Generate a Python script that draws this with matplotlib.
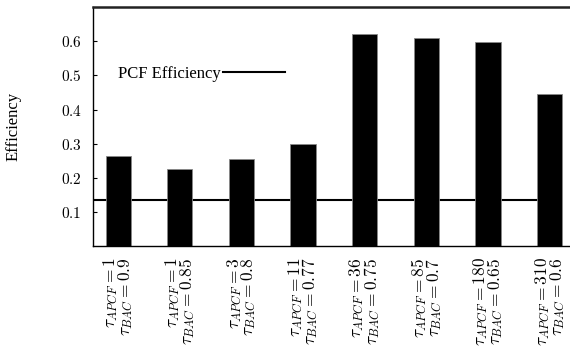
import matplotlib
matplotlib.use('Agg')
import matplotlib.pyplot as plt
import numpy as np

plt.rcParams['font.family'] = 'Liberation Serif'
plt.rcParams['mathtext.fontset'] = 'cm'

# data
tau_apcf = ['1', '1', '3', '11', '36', '85', '180', '310']
tau_bac = ['0.9', '0.85', '0.8', '0.77', '0.75', '0.7', '0.65', '0.6']
efficiency = [0.263, 0.225, 0.255, 0.300, 0.620, 0.610, 0.598, 0.446]
pcf_efficiency = 0.136
ytick_vals = [0.1, 0.2, 0.3, 0.4, 0.5, 0.6]
ytick_labels = ['$0.1$', '$0.2$', '$0.3$', '$0.4$', '$0.5$', '$0.6$']

xtick_labels = [r'$\tau_{APCF} = %s$' % a + '\n' + r'$\tau_{BAC} = %s$' % b
                for a, b in zip(tau_apcf, tau_bac)]

x = np.arange(len(efficiency))

fig = plt.figure(figsize=(5.7, 3.49), dpi=100)
ax = fig.add_axes([0.163, 0.294, 0.837, 0.686])

ax.plot([-0.41, x[-1]], [pcf_efficiency, pcf_efficiency], color='black', lw=1.5,
        zorder=1, label='PCF Efficiency')
ax.bar(x, efficiency, width=0.41, color='black', edgecolor='#888888', lw=0.6, zorder=2)

ax.set_xlim(-0.41, 7.33)
ax.set_ylim(0, 0.7)

ax.set_yticks(ytick_vals)
ax.set_yticklabels(ytick_labels, fontsize=11)
ax.tick_params(axis='y', direction='in', length=3, width=0.8, pad=8)

ax.set_xticks(x)
ax.set_xticklabels(xtick_labels, rotation=90, fontsize=12.5, ha='center', va='top',
                   multialignment='right', linespacing=0.7)
ax.tick_params(axis='x', length=0, pad=8)

ax.spines['right'].set_visible(False)
ax.spines['top'].set_linewidth(1.8)
ax.spines['top'].set_color('#222222')
ax.spines['left'].set_linewidth(1.0)
ax.spines['bottom'].set_linewidth(1.0)

ax.set_ylabel('Efficiency', fontsize=12)
ax.yaxis.set_label_coords(-0.15, 0.5)

ax.legend(loc='center left', bbox_to_anchor=(0.052, 0.72), frameon=False,
          markerfirst=False, handlelength=3.7, handletextpad=0.15, borderpad=0,
          borderaxespad=0, fontsize=12)

plt.savefig('out.png', dpi=100)
plt.close()
